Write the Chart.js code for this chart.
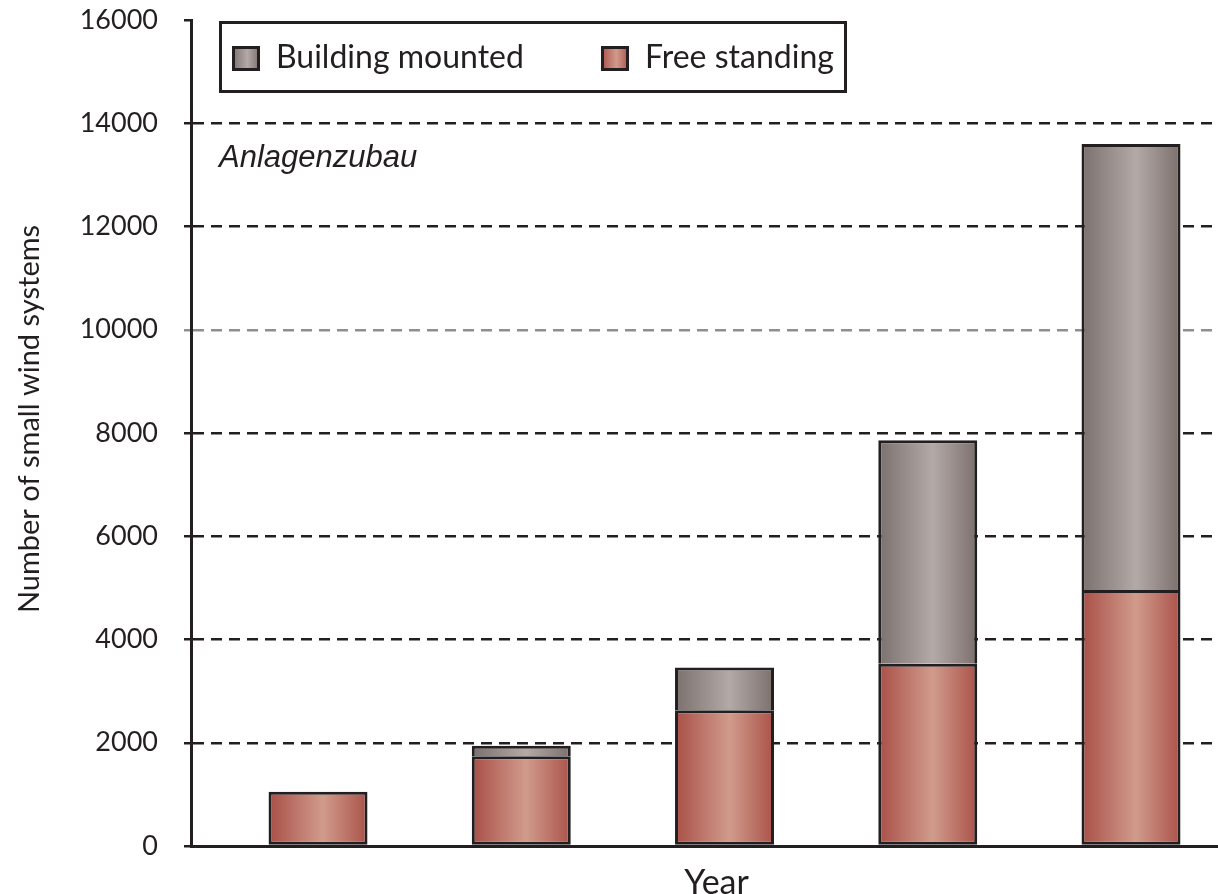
<!DOCTYPE html>
<html>
<head>
<meta charset="utf-8">
<script src="https://cdn.jsdelivr.net/npm/chart.js@4.4.1/dist/chart.umd.min.js"></script>
<style>
html, body { margin: 0; padding: 0; background: #fff; }
canvas { display: block; }
</style>
</head>
<body>
<canvas id="chart" width="1218" height="894"></canvas>
<script>
// bar slots along the x axis (years are not labelled in the original)
var positions = [0, 1, 2, 3, 4];
var freeStanding = [1050, 1740, 2630, 3530, 4960];
var buildingMounted = [null, 200, 830, 4330, 8640];
var seriesNames = ['Building mounted', 'Free standing'];
var yTicks = [0, 2000, 4000, 6000, 8000, 10000, 12000, 14000, 16000];
var xTitle = 'Year';
var yTitle = 'Number of small wind systems';
var note = 'Anlagenzubau';

var ink = '#231f20';
var font = 'Lato';
var barPct = 0.487;
var redStops = ['#a94f47', '#d09b8c', '#ab5249'];
var greyStops = ['#7a706e', '#b3aaa7', '#7b6f6c'];

function fillStops(ctx, x0, x1, stops) {
	var g = ctx.createLinearGradient(x0, 0, x1, 0);
	g.addColorStop(0, stops[0]);
	g.addColorStop(0.55, stops[1]);
	g.addColorStop(1, stops[2]);
	return g;
}

function barGradient(stops) {
	return function (context) {
		var chart = context.chart;
		if (!chart.chartArea || context.type !== 'data') return stops[1];
		var x = chart.scales.x;
		var center = x.getPixelForValue(positions[context.dataIndex]);
		var half = (x.getPixelForValue(1) - x.getPixelForValue(0)) * barPct / 2;
		return fillStops(chart.ctx, center - half, center + half, stops);
	};
}

function points(values) {
	return values.map(function (v, i) { return {x: positions[i], y: v}; });
}

// boxed legend, the italic note and both axis captions
var overlay = {
	id: 'overlay',
	afterDraw: function (chart) {
		var ctx = chart.ctx;
		var area = chart.chartArea;
		var left = area.left + 28, top = area.top + 1;
		ctx.save();
		ctx.fillStyle = '#fff';
		ctx.fillRect(left, top, 628, 72);
		ctx.lineWidth = 3;
		ctx.strokeStyle = ink;
		ctx.strokeRect(left + 1.5, top + 1.5, 625, 69);

		var items = [
			{label: seriesNames[0], stops: greyStops, x: left + 13},
			{label: seriesNames[1], stops: redStops, x: left + 382}
		];
		ctx.font = '32px ' + font;
		ctx.textBaseline = 'middle';
		items.forEach(function (it) {
			ctx.fillStyle = fillStops(ctx, it.x, it.x + 28, it.stops);
			ctx.fillRect(it.x, top + 25, 28, 25);
			ctx.strokeRect(it.x + 1.5, top + 26.5, 25, 22);
			ctx.fillStyle = ink;
			ctx.fillText(it.label, it.x + 44, top + 37);
		});

		ctx.font = 'italic 31px "Liberation Sans", Arial';
		ctx.fillStyle = ink;
		ctx.fillText(note, left, 158);

		ctx.font = '34px ' + font;
		ctx.textAlign = 'center';
		ctx.textBaseline = 'alphabetic';
		ctx.fillText(xTitle, (area.left + area.right) / 2 + 12, 894);

		ctx.font = '29px ' + font;
		ctx.textBaseline = 'middle';
		ctx.translate(30, (area.top + area.bottom) / 2 - 14);
		ctx.rotate(-Math.PI / 2);
		ctx.fillText(yTitle, 0, 0);
		ctx.restore();
	}
};

new Chart(document.getElementById('chart'), {
	type: 'bar',
	data: {
		datasets: [
			{
				label: seriesNames[1],
				data: points(freeStanding),
				backgroundColor: barGradient(redStops),
				borderColor: ink,
				borderWidth: 3,
				borderSkipped: false,
				barPercentage: barPct,
				categoryPercentage: 1
			},
			{
				label: seriesNames[0],
				data: points(buildingMounted),
				backgroundColor: barGradient(greyStops),
				borderColor: ink,
				borderWidth: {top: 3, left: 3, right: 3, bottom: 0},
				borderSkipped: false,
				barPercentage: barPct,
				categoryPercentage: 1
			}
		]
	},
	options: {
		responsive: false,
		animation: false,
		layout: {padding: {top: 20, right: 0, bottom: 0, left: 0}},
		plugins: {
			legend: {display: false},
			tooltip: {enabled: false}
		},
		scales: {
			x: {
				type: 'linear',
				stacked: true,
				offset: false,
				min: -0.625,
				max: 4.428,
				afterBuildTicks: function (scale) {
					scale.ticks = positions.map(function (v) { return {value: v}; });
				},
				grid: {display: false, offset: false},
				ticks: {display: false},
				border: {display: true, color: ink, width: 3},
				afterFit: function (scale) { scale.height = 48; }
			},
			y: {
				stacked: true,
				min: 0,
				max: 16000,
				afterBuildTicks: function (scale) {
					scale.ticks = yTicks.map(function (v) { return {value: v}; });
				},
				ticks: {
					color: ink,
					padding: 26,
					font: {family: font, size: 27},
					callback: function (v) { return String(v); }
				},
				grid: {
					lineWidth: 2.5,
					tickLength: 7,
					tickWidth: 2.5,
					color: function (c) {
						var v = c.tick && c.tick.value;
						if (v === 0 || v === 16000) return 'rgba(0,0,0,0)';
						return v === 10000 ? '#8f8f8f' : ink;
					},
					tickColor: function (c) {
						return c.tick && c.tick.value === 10000 ? '#8f8f8f' : ink;
					}
				},
				border: {display: true, color: ink, width: 3, dash: [11, 7]},
				afterFit: function (scale) {
					scale.width = 191;
					// tick padding would otherwise push the plot top down
					scale.paddingTop = 0;
					scale.paddingBottom = 0;
				}
			}
		}
	},
	plugins: [overlay]
});
</script>
</body>
</html>
